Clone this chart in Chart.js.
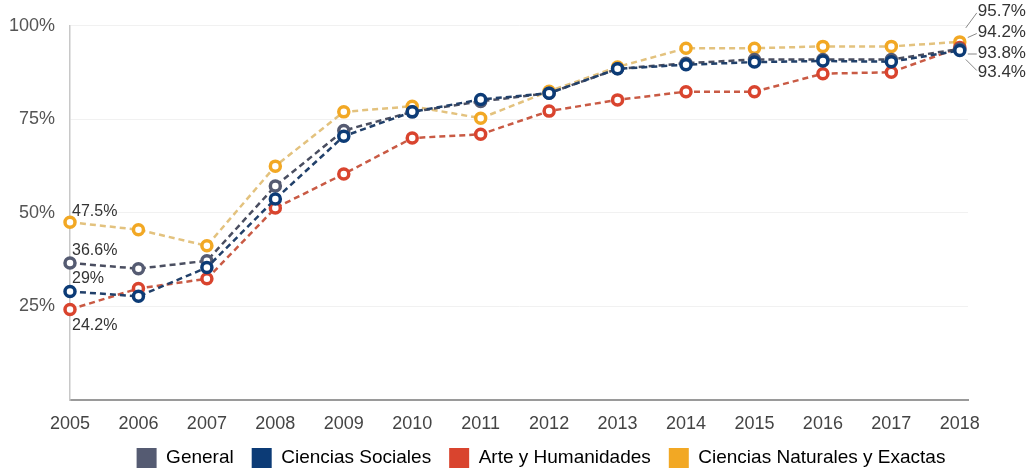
<!DOCTYPE html>
<html>
<head>
<meta charset="utf-8">
<script src="https://cdn.jsdelivr.net/npm/chart.js@4"></script>
<style>
  html, body { margin: 0; padding: 0; background: #fff; }
  #wrap { width: 1036px; height: 470px; }
</style>
</head>
<body>
<div id="wrap"><canvas id="chart" width="1036" height="470"></canvas></div>
<script>
// -------------------------
// Data
// -------------------------
const YEARS = [2005, 2006, 2007, 2008, 2009, 2010, 2011, 2012, 2013, 2014, 2015, 2016, 2017, 2018];
const Y_TICKS = [0, 25, 50, 75, 100];

const GENERAL   = [36.6, 35.1, 37.2, 57.2, 72, 77, 79.8, 82, 88.5, 90, 91, 91, 91, 93.8];
const SOCIALES  = [29, 27.7, 35.4, 53.7, 70.5, 77, 80.3, 82, 88.5, 89.6, 90.3, 90.6, 90.4, 93.4];
const ARTE      = [24.2, 29.8, 32.4, 51.3, 60.4, 70, 71, 77.2, 80.2, 82.4, 82.4, 87.2, 87.6, 94.2];
const NATURALES = [47.5, 45.5, 41.2, 62.5, 77, 78.5, 75.3, 82.5, 89, 94, 94, 94.5, 94.5, 95.7];

const SERIES_NAMES = ["General", "Ciencias Sociales", "Arte y Humanidades", "Ciencias Naturales y Exactas"];

// -------------------------
// Styles
// -------------------------
const FONT = "'Liberation Sans', Arial, sans-serif";
const COLORS = {
  general:   { mark: "#555b72", line: "#4a4e60" },
  sociales:  { mark: "#0c3b76", line: "#21406a" },
  arte:      { mark: "#d9442e", line: "#c95a44" },
  naturales: { mark: "#f2a824", line: "#e3c27e" }
};

// label offsets from the point (first and last year)
const START_LABELS = [
  { ds: 0, dx: 2, dy: -12 },
  { ds: 1, dx: 2, dy: -13 },
  { ds: 2, dx: 2, dy: 16 },
  { ds: 3, dx: 2, dy: -11 }
];
const END_LABELS = [
  { ds: 3, ty: -31, line: [6, -14, 17, -29] },
  { ds: 2, ty: -15, line: [8, -10, 17, -14] },
  { ds: 0, ty: 4,   line: [8, 5, 17, 5] },
  { ds: 1, ty: 22,  line: [6, 9, 17, 20] }
];

function toPoints(values) {
  return values.map((v, i) => ({ x: YEARS[i], y: v }));
}

function makeDataset(label, values, c, order) {
  return {
    label,
    data: toPoints(values),
    order,
    borderColor: c.line,
    backgroundColor: c.mark,
    borderWidth: 2.5,
    borderDash: [6, 4],
    pointRadius: 5,
    pointBorderWidth: 3.5,
    pointBorderColor: c.mark,
    pointBackgroundColor: "#ffffff",
    fill: false,
    tension: 0,
    clip: false
  };
}

// -------------------------
// Labels plugin
// -------------------------
const pointLabels = {
  id: 'pointLabels',
  afterDatasetsDraw(chart) {
    const ctx = chart.ctx;
    ctx.save();
    ctx.fillStyle = "#333";
    ctx.textAlign = "left";
    ctx.textBaseline = "middle";

    ctx.font = `16px ${FONT}`;
    START_LABELS.forEach(l => {
      const p = chart.getDatasetMeta(l.ds).data[0];
      const v = chart.data.datasets[l.ds].data[0].y;
      ctx.fillText(`${v}%`, p.x + l.dx, p.y + l.dy);
    });

    ctx.font = `17px ${FONT}`;
    const last = YEARS.length - 1;
    END_LABELS.forEach(l => {
      const p = chart.getDatasetMeta(l.ds).data[last];
      const v = chart.data.datasets[l.ds].data[last].y;
      ctx.strokeStyle = "#888";
      ctx.lineWidth = 1;
      ctx.beginPath();
      ctx.moveTo(p.x + l.line[0], p.y + l.line[1]);
      ctx.lineTo(p.x + l.line[2], p.y + l.line[3]);
      ctx.stroke();
      ctx.fillText(`${v}%`, p.x + 18, p.y + l.ty);
    });
    ctx.restore();
  }
};

// legend: fixed height, then nudged into place
const legendPlace = {
  id: 'legendPlace',
  beforeInit(chart) {
    const origFit = chart.legend.fit;
    chart.legend.fit = function () {
      origFit.call(this);
      this.height = 30;
    };
  },
  afterLayout(chart) {
    const lg = chart.legend;
    lg.top = 430;
    lg.bottom = 470;
    lg.left += 57;
    lg.right += 57;
  }
};

// -------------------------
// Chart
// -------------------------
Chart.defaults.font.family = FONT;
Chart.defaults.color = "#555";

new Chart(document.getElementById('chart'), {
  type: 'line',
  data: {
    datasets: [
      makeDataset(SERIES_NAMES[0], GENERAL, COLORS.general, 1),
      makeDataset(SERIES_NAMES[1], SOCIALES, COLORS.sociales, 0),
      makeDataset(SERIES_NAMES[2], ARTE, COLORS.arte, 2),
      makeDataset(SERIES_NAMES[3], NATURALES, COLORS.naturales, 3)
    ]
  },
  options: {
    responsive: false,
    animation: false,
    layout: { padding: { top: 24, right: 68, left: 0, bottom: 0 } },
    plugins: {
      legend: {
        position: 'bottom',
        labels: {
          boxWidth: 20,
          boxHeight: 20,
          padding: 18,
          color: "#555",
          font: { size: 19 },
          generateLabels(chart) {
            return chart.data.datasets.map((ds, i) => ({
              text: ds.label,
              fillStyle: ds.pointBorderColor,
              strokeStyle: ds.pointBorderColor,
              lineWidth: 0,
              datasetIndex: i,
              hidden: false
            }));
          }
        }
      },
      tooltip: { enabled: false }
    },
    scales: {
      x: {
        type: 'linear',
        min: YEARS[0],
        max: YEARS[YEARS.length - 1] + 0.12,
        grid: { display: false },
        border: { display: true, color: "#9a9a9a", width: 2 },
        ticks: {
          stepSize: 1,
          includeBounds: false,
          autoSkip: false,
          maxRotation: 0,
          padding: 5,
          color: "#444",
          font: { size: 18 },
          callback: (v) => YEARS.includes(v) ? String(v) : ''
        },
        afterFit(scale) { scale.height = 40; }
      },
      y: {
        min: Y_TICKS[0],
        max: Y_TICKS[Y_TICKS.length - 1],
        grid: { color: "#f1f1f1", drawTicks: false, lineWidth: 1 },
        border: { display: true, color: "#c8c8c8", width: 1.5 },
        afterBuildTicks(scale) { scale.ticks = Y_TICKS.map(v => ({ value: v })); },
        ticks: {
          padding: 15,
          color: "#555",
          font: { size: 18 },
          callback: (v) => v === 0 ? '' : `${v}%`
        },
        afterFit(scale) { scale.width = 70; }
      }
    }
  },
  plugins: [pointLabels, legendPlace]
});
</script>
</body>
</html>
